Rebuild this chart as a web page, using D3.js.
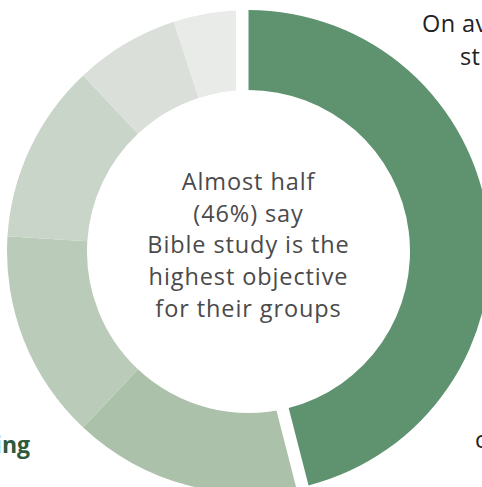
<!DOCTYPE html>
<html>
<head>
<meta charset="utf-8">
<script src="https://cdn.jsdelivr.net/npm/d3@7"></script>
<style>
  html, body { margin: 0; padding: 0; background: #fff; overflow: hidden; }
  svg { display: block; }
</style>
</head>
<body>
<svg id="chart" width="482" height="487"></svg>
<script>
// Share of groups naming each objective as their highest (%)
const categories = ["Bible study", "Objective 2", "Objective 3", "Objective 4", "Objective 5", "Objective 6"];
const shares = [46, 16, 14, 12, 7, 5];
const sliceColors = ["#5f9370", "#abc1aa", "#bacbba", "#c9d5c9", "#dae0d9", "#e8ebe8"];

const centerLines = ["Almost half", "(46%) say", "Bible study is the", "highest objective", "for their groups"];

const W = 482, H = 487;
const cx = 248.5, cy = 251.5;
const rOuter = 241.5, rInner = 161.5;
const gap = 12.5; // linear gap on each side of the highlighted slice
const font = "'Open Sans', sans-serif";

const svg = d3.select("#chart");

const pie = d3.pie().sort(null).value(d => d);
const arcs = pie(shares);

const arc = d3.arc().innerRadius(rInner).outerRadius(rOuter);

const g = svg.append("g").attr("transform", `translate(${cx},${cy})`);

// Clip that trims the remaining slices away from the highlighted one
const restClip = d3.arc()
  .innerRadius(rInner - 2)
  .outerRadius(rOuter + 2)
  .startAngle(arcs[1].startAngle)
  .endAngle(arcs[arcs.length - 1].endAngle)
  .padRadius(rOuter)
  .padAngle(2 * Math.asin(gap / rOuter));

svg.append("defs").append("clipPath")
  .attr("id", "rest-clip")
  .append("path")
  .attr("d", restClip());

g.append("g")
  .attr("clip-path", "url(#rest-clip)")
  .selectAll("path")
  .data(arcs.slice(1))
  .join("path")
  .attr("d", arc)
  .attr("fill", (d, i) => sliceColors[i + 1]);

g.append("path")
  .datum(arcs[0])
  .attr("d", arc)
  .attr("fill", sliceColors[0]);

// Centre caption
const lineH = 31.7;
g.append("text")
  .attr("text-anchor", "middle")
  .attr("font-family", font)
  .attr("font-size", 23.5)
  .attr("letter-spacing", 0.9)
  .attr("fill", "#4a4a4a")
  .selectAll("tspan")
  .data(centerLines)
  .join("tspan")
  .attr("x", 0)
  .attr("y", (d, i) => 190 - cy + i * lineH)
  .text(d => d);

// Surrounding annotation text running past the frame
svg.append("text")
  .attr("font-family", font)
  .attr("font-size", 23.5)
  .attr("letter-spacing", 0.4)
  .attr("fill", "#222")
  .selectAll("tspan")
  .data([{ t: "On average,", x: 422, y: 32 }, { t: "study", x: 460, y: 65 }])
  .join("tspan")
  .attr("x", d => d.x)
  .attr("y", d => d.y)
  .text(d => d.t);

svg.append("text")
  .attr("x", 475)
  .attr("y", 448)
  .attr("font-family", font)
  .attr("font-size", 23.5)
  .attr("fill", "#222")
  .text("compared");

svg.append("text")
  .attr("x", 30)
  .attr("y", 453)
  .attr("text-anchor", "end")
  .attr("font-family", font)
  .attr("font-weight", "bold")
  .attr("font-size", 23)
  .attr("fill", "#2d5a3c")
  .text("Learning");
</script>
</body>
</html>
